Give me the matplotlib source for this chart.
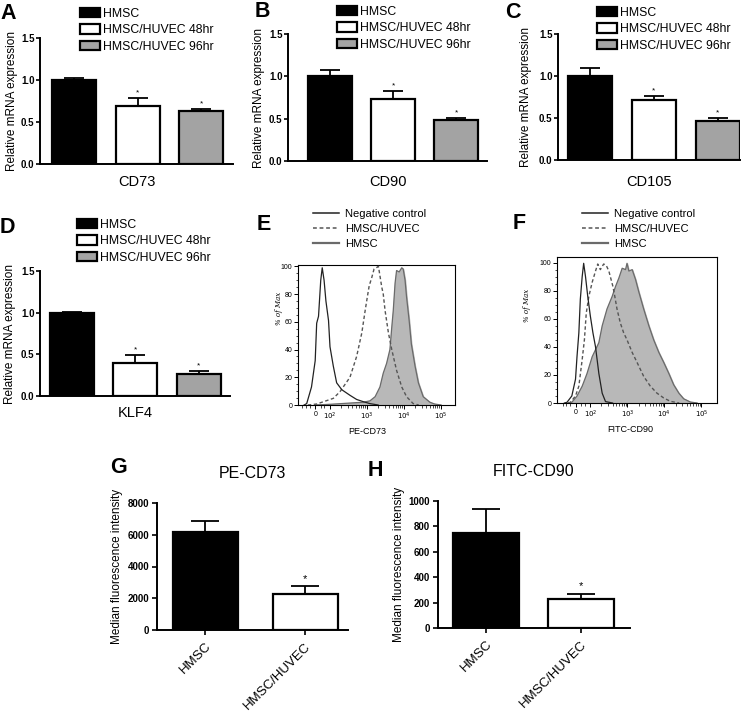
import numpy as np
import matplotlib
matplotlib.use("Agg")
import matplotlib.pyplot as plt
from matplotlib.lines import Line2D

plt.rcParams['font.family'] = ['Liberation Sans', 'DejaVu Sans']

# ---- data ----
groups = ["HMSC", "HMSC/HUVEC 48hr", "HMSC/HUVEC 96hr"]
cd73_mean = [1.00, 0.69, 0.63]
cd73_err = [0.02, 0.10, 0.02]
cd90_mean = [1.00, 0.73, 0.49]
cd90_err = [0.07, 0.10, 0.02]
cd105_mean = [1.00, 0.72, 0.47]
cd105_err = [0.10, 0.045, 0.025]
klf4_mean = [1.00, 0.40, 0.27]
klf4_err = [0.01, 0.09, 0.035]

flow_labels = ["Negative control", "HMSC/HUVEC", "HMSC"]
flow_ticks = [1.6, 2, 3, 4, 5]
flow_ticklabels = ["0", r"$10^{2}$", r"$10^{3}$", r"$10^{4}$", r"$10^{5}$"]

# panel E (PE-CD73), x in display decades
e_neg_x = [1.30, 1.37, 1.50, 1.60, 1.64, 1.69, 1.75, 1.79, 1.84, 1.89, 1.96, 2.00, 2.09, 2.18, 2.32, 2.54, 2.72, 2.90, 3.08, 3.30]
e_neg_y = [0, 1, 13, 32, 59, 64, 90, 99, 90, 75, 61, 42, 28, 16, 11, 7, 4, 2.4, 1, 0]
e_mix_x = [1.40, 1.64, 2.09, 2.27, 2.54, 2.72, 2.86, 2.95, 3.01, 3.06, 3.13, 3.19, 3.31, 3.40, 3.44, 3.49, 3.58, 3.67, 3.80, 3.94, 4.07, 4.25, 4.40]
e_mix_y = [0, 0.7, 4.8, 9.6, 20, 35, 52, 68, 78, 86, 92, 98, 100, 85, 80, 68, 52, 40, 25, 13, 6, 1, 0]
e_hmsc_x = [1.60, 2.00, 2.90, 3.08, 3.22, 3.35, 3.44, 3.53, 3.62, 3.67, 3.71, 3.76, 3.80, 3.87, 3.94, 3.98, 4.03, 4.07, 4.14, 4.20, 4.30, 4.39, 4.52, 4.70, 4.83, 5.00]
e_hmsc_y = [0, 0.5, 2, 3, 6, 13, 23, 30, 40, 56, 68, 88, 97, 96, 99, 98, 90, 78, 61, 44, 28, 16, 6, 2, 0.7, 0]

# panel F (FITC-CD90)
f_neg_x = [1.30, 1.37, 1.50, 1.60, 1.64, 1.69, 1.73, 1.78, 1.82, 1.87, 1.93, 2.00, 2.07, 2.14, 2.23, 2.32, 2.41, 2.60]
f_neg_y = [0, 0.5, 5, 17, 33, 50, 74, 90, 99.5, 90, 76, 62, 50, 40, 21, 7, 1, 0]
f_mix_x = [1.40, 1.46, 1.60, 1.69, 1.78, 1.84, 1.89, 1.96, 2.05, 2.14, 2.20, 2.27, 2.36, 2.43, 2.50, 2.56, 2.61, 2.66, 2.72, 2.81, 2.90, 2.99, 3.13, 3.26, 3.44, 3.62, 3.80, 3.98, 4.16, 4.40]
f_mix_y = [0, 0.5, 5, 12, 31, 45, 64, 76, 86, 94, 99, 95, 99, 98, 94, 88, 83, 76, 67, 57, 50, 45, 36, 29, 19, 12, 7, 3.6, 1.2, 0]
f_hmsc_x = [1.40, 1.50, 1.64, 1.78, 1.91, 2.05, 2.14, 2.23, 2.32, 2.45, 2.59, 2.68, 2.77, 2.86, 2.95, 2.99, 3.04, 3.13, 3.22, 3.31, 3.44, 3.58, 3.71, 3.85, 3.98, 4.12, 4.25, 4.39, 4.52, 4.70, 4.88]
f_hmsc_y = [0, 0.5, 5, 12, 21, 33, 38, 43, 55, 67, 76, 83, 89, 96, 95, 99.5, 94, 95, 88, 79, 67, 55, 45, 36, 29, 21, 13, 7, 3, 0.7, 0]

mfi_groups = ["HMSC", "HMSC/HUVEC"]
pe_cd73_mean = [6190, 2290]
pe_cd73_err = [700, 480]
fitc_cd90_mean = [748, 228]
fitc_cd90_err = [187, 40]

# ---- layout helpers ----
W, H = 750, 712
fig = plt.figure(figsize=(W / 100, H / 100), dpi=100)


def px_axes(left, top, right, bottom):
    return fig.add_axes([left / W, 1 - bottom / H, (right - left) / W, (bottom - top) / H])


def fig_text(x, y, s, **kw):
    fig.text(x / W, 1 - y / H, s, **kw)


bar_colors = ["black", "white", "#a3a3a3"]


def bar_panel(rect, means, errs, gene, xlim, ylabel_x, xlabel_y, legend_xy):
    left, top, right, bottom = rect
    ax = px_axes(*rect)
    x = np.arange(len(means))
    bars = ax.bar(x, means, width=0.69, color=bar_colors, edgecolor="black", linewidth=1.6, zorder=2)
    ax.errorbar(x, means, yerr=[np.zeros(len(errs)), errs], fmt="none", ecolor="black",
                elinewidth=1.3, capsize=7, capthick=1.3, zorder=1)
    for xi, m, e in list(zip(x, means, errs))[1:]:
        ax.text(xi, m + e + 0.02, "*", ha="center", va="bottom", fontsize=6)
    ax.set_xlim(*xlim)
    ax.set_ylim(0, 1.5)
    for s in ["top", "right"]:
        ax.spines[s].set_visible(False)
    for s in ["left", "bottom"]:
        ax.spines[s].set_linewidth(1.4)
    ax.set_xticks([])
    ax.set_yticks([0, 0.5, 1.0, 1.5])
    ax.set_yticklabels(["0.0", "0.5", "1.0", "1.5"], fontsize=7, fontweight="bold")
    ax.tick_params(axis="y", direction="out", length=3, width=1.2, pad=1)
    ax.set_ylabel("Relative mRNA expression", fontsize=8.5)
    ax.yaxis.set_label_coords(-(left - ylabel_x) / (right - left), 0.5)
    ax.yaxis.label.set_va("center")
    ax.set_xlabel(gene, fontsize=10.5)
    ax.xaxis.set_label_coords(0.5, -(xlabel_y - bottom) / (bottom - top))
    ax.xaxis.label.set_va("center")
    fig.legend(bars, groups, loc="upper left",
               bbox_to_anchor=(legend_xy[0] / W, 1 - legend_xy[1] / H),
               frameon=False, fontsize=8.8, handlelength=1.6, handleheight=0.8,
               handletextpad=0.3, labelspacing=0.35, borderpad=0, borderaxespad=0)
    return ax


bar_panel((40, 38, 233, 164), cd73_mean, cd73_err, "CD73", (-0.535, 2.5), 12, 182, (80, 8))
bar_panel((288, 34, 487, 161), cd90_mean, cd90_err, "CD90", (-0.667, 2.49), 259, 182, (337, 6))
bar_panel((558, 34, 740, 160), cd105_mean, cd105_err, "CD105", (-0.5, 2.35), 526, 182, (597, 7))
bar_panel((40, 271, 230, 396), klf4_mean, klf4_err, "KLF4", (-0.5, 2.49), 10, 413, (77, 219))


def flow_panel(rect, neg, mix, hmsc, xlim, ylim_top, xlabel, xlabel_xy, ylabel_xy, legend_xy):
    left, top, right, bottom = rect
    ax = px_axes(*rect)
    ax.fill_between(hmsc[0], hmsc[1], color="#b8b8b8", zorder=1)
    ax.plot(hmsc[0], hmsc[1], color="#6a6a6a", lw=0.9, zorder=2)
    ax.plot(mix[0], mix[1], color="#555555", lw=1.0, ls=(0, (2.5, 1.8)), zorder=3)
    ax.plot(neg[0], neg[1], color="#222222", lw=0.9, zorder=4)
    ax.set_xlim(*xlim)
    ax.set_ylim(0, ylim_top)
    for s in ax.spines.values():
        s.set_linewidth(0.8)
    ax.set_xticks(flow_ticks)
    ax.set_xticklabels(flow_ticklabels, fontsize=5)
    minors = [np.log10(m * 10 ** d) for d in range(2, 5) for m in range(2, 10)]
    minors += [1.25, 1.35, 1.45, 1.75, 1.85]
    ax.set_xticks(minors, minor=True)
    ax.set_yticks([0, 20, 40, 60, 80, 100])
    ax.set_yticklabels(["0", "20", "40", "60", "80", "100"], fontsize=5)
    ax.set_yticks(np.arange(0, 101, 5), minor=True)
    ax.tick_params(which="major", direction="out", length=3, width=0.7, pad=1.2)
    ax.tick_params(which="minor", direction="out", length=1.8, width=0.5)
    ax.set_xlabel(xlabel, fontsize=6.5)
    ax.xaxis.set_label_coords((xlabel_xy[0] - left) / (right - left), -(xlabel_xy[1] - bottom) / (bottom - top))
    ax.xaxis.label.set_va("center")
    ax.set_ylabel("% of Max", fontsize=5, family="DejaVu Serif", style="italic")
    ax.yaxis.set_label_coords(-(left - ylabel_xy[0]) / (right - left), (bottom - ylabel_xy[1]) / (bottom - top))
    ax.yaxis.label.set_va("center")
    handles = [Line2D([], [], color="#222222", lw=1.1),
               Line2D([], [], color="#555555", lw=1.1, ls=(0, (2.5, 1.8))),
               Line2D([], [], color="#6a6a6a", lw=1.6)]
    fig.legend(handles, flow_labels, loc="upper left",
               bbox_to_anchor=(legend_xy[0] / W, 1 - legend_xy[1] / H),
               frameon=False, fontsize=8, handlelength=2.3, handletextpad=0.6,
               labelspacing=0.45, borderpad=0, borderaxespad=0)
    return ax


flow_panel((298, 265, 455, 405), (e_neg_x, e_neg_y), (e_mix_x, e_mix_y), (e_hmsc_x, e_hmsc_y),
           (1.135, 5.38), 101, "PE-CD73", (367, 432), (279, 308), (313, 209))
flow_panel((557, 257, 717, 403), (f_neg_x, f_neg_y), (f_mix_x, f_mix_y), (f_hmsc_x, f_hmsc_y),
           (1.1, 5.42), 104, "FITC-CD90", (630, 430), (527, 305), (582, 209))


def mfi_panel(rect, means, errs, title, xlim, width, yticks, ylabel_x, title_y, star_gap):
    left, top, right, bottom = rect
    ax = px_axes(*rect)
    x = np.arange(len(means))
    ax.bar(x, means, width=width, color=["black", "white"], edgecolor="black", linewidth=1.6, zorder=2)
    ax.errorbar(x, means, yerr=[np.zeros(len(errs)), errs], fmt="none", ecolor="black",
                elinewidth=1.3, capsize=10, capthick=1.3, zorder=1)
    ax.text(x[1], means[1] + errs[1] + star_gap, "*", ha="center", va="bottom", fontsize=8)
    ax.set_xlim(*xlim)
    ax.set_ylim(0, yticks[-1])
    for s in ["top", "right"]:
        ax.spines[s].set_visible(False)
    for s in ["left", "bottom"]:
        ax.spines[s].set_linewidth(1.4)
    ax.set_yticks(yticks)
    ax.set_yticklabels([str(t) for t in yticks], fontsize=7, fontweight="bold")
    ax.set_xticks(x)
    ax.set_xticklabels(mfi_groups, rotation=45, ha="right", rotation_mode="anchor", fontsize=9.5)
    ax.tick_params(axis="both", direction="out", length=3.5, width=1.2, pad=2)
    ax.tick_params(axis="x", pad=4)
    ax.set_ylabel("Median fluorescence intensity", fontsize=8.5)
    ax.yaxis.set_label_coords(-(left - ylabel_x) / (right - left), 0.5)
    ax.yaxis.label.set_va("center")
    ax.set_title(title, fontsize=11.5, pad=(top - title_y) * 0.72 - 6)
    return ax


mfi_panel((157, 503, 348, 630), pe_cd73_mean, pe_cd73_err, "PE-CD73", (-0.48, 1.43), 0.65,
          [0, 2000, 4000, 6000, 8000], 117, 470, 150)
mfi_panel((438, 501, 630, 628), fitc_cd90_mean, fitc_cd90_err, "FITC-CD90", (-0.51, 1.52), 0.7,
          [0, 200, 400, 600, 800, 1000], 399, 468, 20)

# panel letters
for letter, (lx, ly) in {"A": (0, 3), "B": (255, 1), "C": (505, 2), "D": (0, 217),
                         "E": (257, 214), "F": (513, 213), "G": (110, 457), "H": (368, 460)}.items():
    fig_text(lx, ly, letter, fontsize=15.5, fontweight="bold", ha="left", va="top")

fig.savefig("out.png", dpi=100)
